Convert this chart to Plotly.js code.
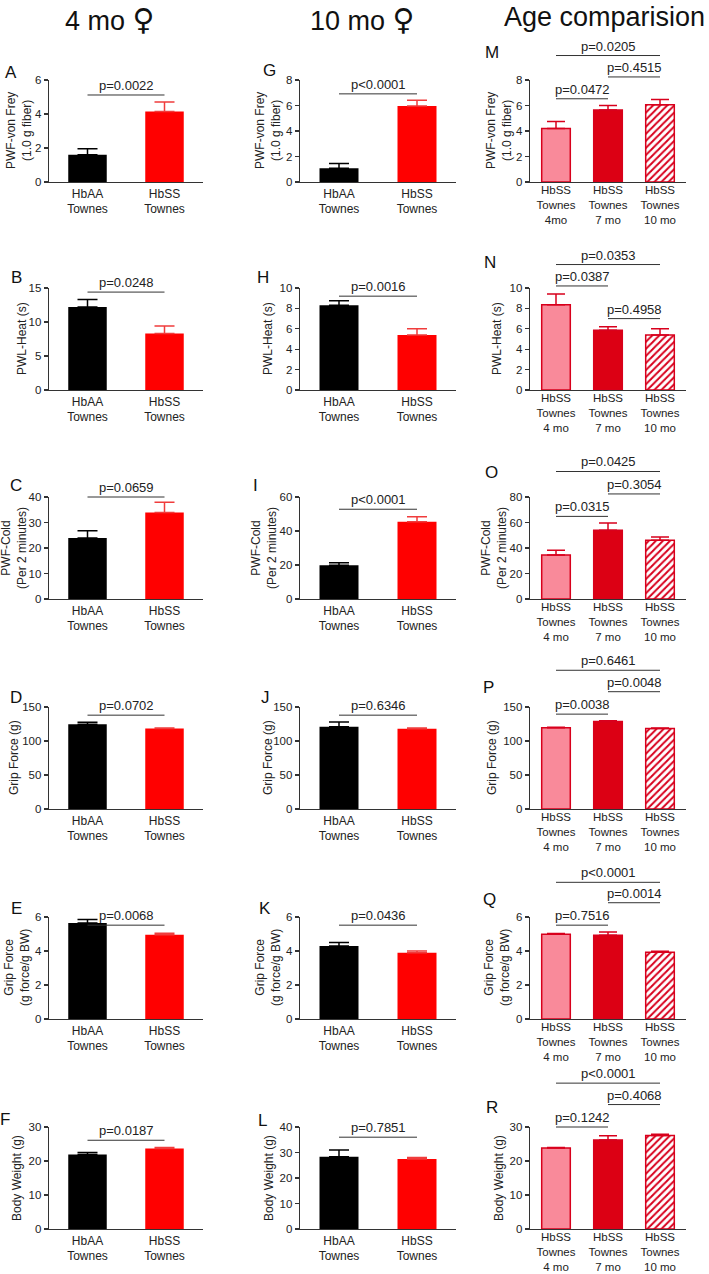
<!DOCTYPE html>
<html><head><meta charset="utf-8">
<script src="https://cdn.plot.ly/plotly-3.0.1.min.js"></script>
<style>body{margin:0;background:#fff}#chart{width:709px;height:1274px}</style>
</head><body><div id="chart"></div>
<script>
// ---------------- data ----------------
const groups2 = ["HbAA<br>Townes", "HbSS<br>Townes"];
const groupsAge = ["HbSS<br>Townes<br>4 mo", "HbSS<br>Townes<br>7 mo", "HbSS<br>Townes<br>10 mo"];
const groupsAgeM = ["HbSS<br>Townes<br>4mo", "HbSS<br>Townes<br>7 mo", "HbSS<br>Townes<br>10 mo"];
const columnTitles = ["4 mo <span style=\"font-family:'DejaVu Sans';font-size:30px\">\u2640</span>",
                      "10 mo <span style=\"font-family:'DejaVu Sans';font-size:30px\">\u2640</span>",
                      "Age comparision"];
const panelLetters = ["A","B","C","D","E","F","G","H","I","J","K","L","M","N","O","P","Q","R"];
const yTitles = ["PWF-von Frey<br>(1.0 g fiber)", "PWL-Heat (s)", "PWF-Cold<br>(Per 2 minutes)", "Grip Force (g)", "Grip Force<br>(g force/g BW)", "Body Weight (g)"];

const mean4mo = [[1.6, 4.15], [12.2, 8.3], [23.9, 33.9], [124.5, 118.3], [5.65, 4.95], [21.9, 23.7]];
const sem4mo  = [[0.35, 0.55], [1.1, 1.1], [2.9, 4.0], [3.0, 1.0], [0.2, 0.1], [0.6, 0.3]];
const p4mo = ["p=0.0022", "p=0.0248", "p=0.0659", "p=0.0702", "p=0.0068", "p=0.0187"];
const yMax4 = [6, 15, 40, 150, 6, 30];
const yDtick4 = [2, 5, 10, 50, 2, 10];

const mean10mo = [[1.08, 5.97], [8.3, 5.4], [19.8, 45.5], [121, 118], [4.3, 3.9], [28.3, 27.5]];
const sem10mo  = [[0.38, 0.44], [0.45, 0.6], [1.5, 2.9], [7, 1.2], [0.2, 0.1], [2.7, 0.5]];
const p10mo = ["p<0.0001", "p=0.0016", "p<0.0001", "p=0.6346", "p=0.0436", "p=0.7851"];
const yMax10 = [8, 10, 60, 150, 6, 40];
const yDtick10 = [2, 2, 20, 50, 2, 10];

const meanAge = [[4.2, 5.65, 6.05], [8.35, 5.85, 5.4], [34.5, 54, 46], [119.5, 128.5, 118.5], [4.98, 4.92, 3.93], [23.8, 26.2, 27.5]];
const semAge  = [[0.55, 0.35, 0.42], [1.05, 0.35, 0.6], [3.8, 5.6, 2.6], [0.8, 1.2, 0.8], [0.05, 0.2, 0.05], [0.2, 1.2, 0.4]];
const pAge = [["p=0.0472", "p=0.4515", "p=0.0205"], ["p=0.0387", "p=0.4958", "p=0.0353"], ["p=0.0315", "p=0.3054", "p=0.0425"],
              ["p=0.0038", "p=0.0048", "p=0.6461"], ["p=0.7516", "p=0.0014", "p<0.0001"], ["p=0.1242", "p=0.4068", "p<0.0001"]];
const pairsAge = [[0, 1], [1, 2], [0, 2]];
const yMaxAge = [8, 10, 80, 150, 6, 30];
const yDtickAge = [2, 2, 20, 50, 2, 10];

// ---------------- layout / style ----------------
const W = 709, H = 1274;
const FONT = "Liberation Sans, Arial, sans-serif";
const rowTop = [80, 288, 497, 707, 917, 1127];
const rowH = 102;
const colX = [[49, 203], [300, 456], [530, 686]];
const yTitleX = [[19, 22, 14, 14, 17, 17], [268, 268, 264, 268, 268, 269], [499, 497, 494, 492, 497, 499]];
const pLevel4 = [0.853, 0.96, 1.0, 0.92, 0.92, 0.87];
const pLevel10 = [0.864, 0.92, 0.88, 0.92, 0.92, 0.90];
const pLevelAge = [[0.816, 1.03, 1.24], [1.02, 0.70, 1.23], [0.81, 1.03, 1.25], [0.93, 1.15, 1.36], [0.92, 1.14, 1.34], [1.0, 1.22, 1.43]];
const letterPos = [[11,72],[16,277],[16,485],[16,697],[16,908],[5,1119],
                   [269,70],[263,277],[255,485],[265,697],[265,908],[262,1120],
                   [492,53],[490,263],[491,472],[488,687],[489,899],[492,1107]];
const titlePos = [[110, 'center'], [362, 'center'], [502, 'left']];
const colors2 = ["#000000", "#ff0000"];
const errColors2 = ["#000000", "#f03c3c"];
const ageLine = "#d8001c";
const colorsAge = ["#f98a9a", "#dc0014", ageLine];
const axColor = "#333333";

const data = [];
const layout = {
  width: W, height: H, margin: {l: 0, r: 0, t: 0, b: 0, autoexpand: false},
  paper_bgcolor: "#fff", plot_bgcolor: "#fff",
  showlegend: false, barmode: "overlay",
  font: {family: FONT, size: 12, color: "#222"},
  shapes: [], annotations: []
};

function axName(n, c) { return n === 1 ? c : c + n; }

for (let col = 0; col < 3; col++) {
  for (let row = 0; row < 6; row++) {
    const n = col * 6 + row + 1;
    const xa = axName(n, 'x'), ya = axName(n, 'y');
    const cats = col < 2 ? groups2 : (row === 0 ? groupsAgeM : groupsAge);
    const yMax = [yMax4, yMax10, yMaxAge][col][row];
    const dt = [yDtick4, yDtick10, yDtickAge][col][row];
    const top = rowTop[row], bot = rowTop[row] + rowH;
    const xr = col < 2 ? [-0.5, 1.5] : [-0.5, 2.5];

    layout['xaxis' + (n === 1 ? '' : n)] = {
      domain: [colX[col][0] / W, colX[col][1] / W], anchor: ya,
      type: 'category', categoryorder: 'array', categoryarray: cats,
      range: xr, showline: true, linecolor: axColor, linewidth: 1.3,
      ticks: '', showgrid: false, zeroline: false, fixedrange: true,
      ticklabelstandoff: col < 2 ? 0 : -3,
      tickfont: {size: col < 2 ? 12 : 11.5, color: '#222'}
    };
    layout['yaxis' + (n === 1 ? '' : n)] = {
      domain: [1 - bot / H, 1 - top / H], anchor: xa,
      range: [0, yMax], tick0: 0, dtick: dt,
      showline: true, linecolor: axColor, linewidth: 1.3,
      ticks: 'outside', ticklen: 4, tickwidth: 1.3, tickcolor: axColor,
      showgrid: false, zeroline: false, fixedrange: true,
      tickfont: {size: 11.5, color: '#222'}
    };
    // y-axis title, placed as rotated text beside the axis
    layout.annotations.push({xref: 'paper', yref: 'paper', x: yTitleX[col][row] / W, y: 1 - (top + rowH / 2) / H,
      xanchor: 'center', yanchor: 'middle', textangle: -90, showarrow: false, text: yTitles[row],
      font: {size: 12, color: '#222'}});

    if (col < 2) {
      const means = col === 0 ? mean4mo[row] : mean10mo[row];
      const sems = col === 0 ? sem4mo[row] : sem10mo[row];
      for (let i = 0; i < 2; i++) {
        data.push({
          type: 'bar', x: [cats[i]], y: [means[i]], xaxis: xa, yaxis: ya, width: 0.5,
          marker: {color: colors2[i], line: {width: 0}},
          error_y: {type: 'data', symmetric: false, array: [sems[i]], arrayminus: [0],
                    color: errColors2[i], thickness: 1.5, width: 10},
          hoverinfo: 'skip'
        });
      }
      const lvl = col === 0 ? pLevel4[row] : pLevel10[row];
      const ptxt = col === 0 ? p4mo[row] : p10mo[row];
      layout.shapes.push({type: 'line', xref: xa, yref: ya + ' domain', x0: 0, x1: 1, y0: lvl, y1: lvl,
                          line: {color: axColor, width: 1}});
      layout.annotations.push({xref: xa, yref: ya + ' domain', x: 0.5, y: lvl, yanchor: 'bottom',
                               yshift: 0, showarrow: false, text: ptxt, font: {size: 13, color: '#222'}});
    } else {
      data.push({
        type: 'bar', x: cats, y: meanAge[row], xaxis: xa, yaxis: ya, width: 0.55,
        marker: {color: colorsAge, line: {color: ageLine, width: 1.5},
                 pattern: {shape: ['', '', '/'], size: 5, solidity: 0.4, fillmode: 'replace'}},
        error_y: {type: 'data', symmetric: false, array: semAge[row], arrayminus: [0, 0, 0],
                  color: ageLine, thickness: 1.5, width: 9},
        hoverinfo: 'skip'
      });
      for (let k = 0; k < 3; k++) {
        const pr = pairsAge[k], lvl = pLevelAge[row][k];
        layout.shapes.push({type: 'line', xref: xa, yref: ya + ' domain', x0: pr[0], x1: pr[1], y0: lvl, y1: lvl,
                            line: {color: axColor, width: 1}});
        layout.annotations.push({xref: xa, yref: ya + ' domain', x: (pr[0] + pr[1]) / 2, y: lvl, yanchor: 'bottom',
                                 yshift: 0, showarrow: false, text: pAge[row][k], font: {size: 13, color: '#222'}});
      }
    }
  }
}

panelLetters.forEach((L, i) => {
  layout.annotations.push({xref: 'paper', yref: 'paper', x: letterPos[i][0] / W, y: 1 - letterPos[i][1] / H,
    xanchor: 'center', yanchor: 'middle', showarrow: false, text: L, font: {size: 17, color: '#111'}});
});
columnTitles.forEach((t, i) => {
  layout.annotations.push({xref: 'paper', yref: 'paper', x: titlePos[i][0] / W, y: 1,
    xanchor: titlePos[i][1], yanchor: 'top', showarrow: false, text: t, font: {size: 27, color: '#111'}});
});

Plotly.newPlot('chart', data, layout, {staticPlot: true, displayModeBar: false});
</script></body></html>
